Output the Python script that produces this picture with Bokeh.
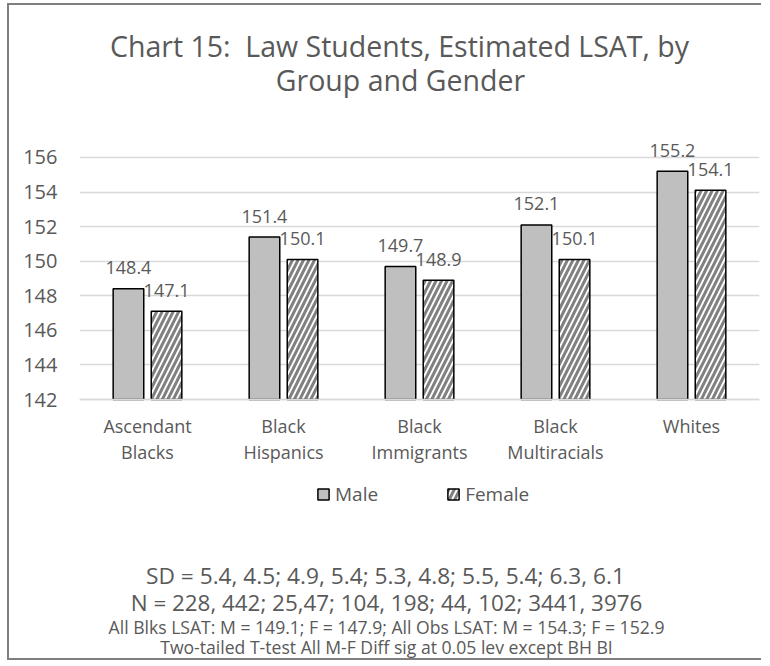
from bokeh.plotting import figure
from bokeh.models import ColumnDataSource, FactorRange, FixedTicker, Label, Legend, LegendItem, Range1d
from bokeh.transform import dodge
from bokeh.core.properties import value
from bokeh.embed import file_html
from bokeh.resources import INLINE

groups = ["Ascendant\nBlacks", "Black\nHispanics", "Black\nImmigrants", "Black\nMultiracials", "Whites"]
male = [148.4, 151.4, 149.7, 152.1, 155.2]
female = [147.1, 150.1, 148.9, 150.1, 154.1]
y_ticks = [142, 144, 146, 148, 150, 152, 154, 156]
title_lines = ["Chart 15:\u00a0 Law Students, Estimated LSAT, by", "Group and Gender"]
notes = [
    "SD = 5.4, 4.5; 4.9, 5.4; 5.3, 4.8; 5.5, 5.4; 6.3, 6.1",
    "N = 228, 442; 25,47; 104, 198; 44, 102; 3441, 3976",
    "All Blks LSAT: M = 149.1; F = 147.9; All Obs LSAT: M = 154.3; F = 152.9",
    "Two-tailed T-test All M-F Diff sig at 0.05 lev except BH BI",
]

FONT = "Open Sans"
TXT = "#595959"

src = ColumnDataSource(dict(
    group=groups, male=male, female=female,
    male_lbl=[f"{v:.1f}" for v in male], female_lbl=[f"{v:.1f}" for v in female],
))

W, H = 760, 657
p = figure(width=W, height=H, x_range=FactorRange(*groups, range_padding=0),
           y_range=Range1d(126.79, 164.79), output_backend="svg", toolbar_location=None,
           min_border_left=70, min_border_right=10, min_border_top=0, min_border_bottom=0)
p.styles = {"margin-left": "7px", "margin-top": "3px",
            "border-left": "2px solid #7f7f7f", "border-top": "2px solid #7f7f7f",
            "border-bottom": "2px solid #7f7f7f", "border-right": "0px none",
            "clip-path": "inset(0px 6px 0px 0px)"}
p.outline_line_color = None
p.background_fill_color = "white"
p.border_fill_color = "white"

rm = p.vbar(x=dodge("group", -0.14, range=p.x_range), top="male", bottom=142, width=0.225,
            source=src, fill_color="#BFBFBF", line_color="black", line_width=1.5)
rf = p.vbar(x=dodge("group", 0.14, range=p.x_range), top="female", bottom=142, width=0.225,
            source=src, fill_color="white", line_color="black", line_width=1.5,
            hatch_pattern="/", hatch_color="#808080", hatch_weight=3, hatch_scale=11)

p.text(x=dodge("group", -0.14, range=p.x_range), y="male", text="male_lbl", source=src,
       text_align="center", text_baseline="alphabetic", y_offset=-21,
       text_font=value(FONT), text_font_size="18px", text_color=TXT)
p.text(x=dodge("group", 0.14, range=p.x_range), y="female", text="female_lbl", source=src,
       text_align="center", text_baseline="alphabetic", y_offset=-21,
       text_font=value(FONT), text_font_size="18px", text_color=TXT)

p.yaxis.ticker = FixedTicker(ticks=y_ticks)
p.ygrid.ticker = FixedTicker(ticks=y_ticks)
p.ygrid.grid_line_color = "#D9D9D9"
p.ygrid.grid_line_width = 1.5
p.xgrid.grid_line_color = None
p.xaxis.fixed_location = 142
for ax in (p.xaxis, p.yaxis):
    ax.major_tick_line_color = None
    ax.minor_tick_line_color = None
    ax.major_label_text_font = FONT
    ax.major_label_text_color = TXT
p.yaxis.axis_line_color = None
p.xaxis.axis_line_color = "#D9D9D9"
p.xaxis.axis_line_width = 1.5
p.yaxis.major_label_text_font_size = "20px"
p.xaxis.major_label_text_font_size = "18px"
p.xaxis.major_label_text_line_height = 1.12
p.yaxis.major_label_standoff = 16
p.xaxis.major_label_standoff = 8

FL, FB = 79, 662  # page coords of frame left / bottom

legend = Legend(items=[LegendItem(label="Male", renderers=[rm]),
                       LegendItem(label="Female", renderers=[rf])],
                orientation="horizontal", location=(316 - FL, FB - 507),
                glyph_width=14, glyph_height=14, label_standoff=5, spacing=68,
                padding=0, margin=0, border_line_color=None, background_fill_alpha=0,
                label_text_font=FONT, label_text_font_size="19px", label_text_color=TXT,
                label_height=20)
p.add_layout(legend, "center")


def add_text(txt, px, py, size):
    p.add_layout(Label(x=px - FL, y=FB - py, x_units="screen", y_units="screen", text=txt,
                       text_align="center", text_baseline="middle", text_font=FONT,
                       text_font_size=size, text_color=TXT))


add_text(title_lines[0], 399, 45, "28.5px")
add_text(title_lines[1], 400, 79, "28.5px")
add_text(notes[0], 385, 575, "22.7px")
add_text(notes[1], 386, 602, "22.4px")
add_text(notes[2], 386, 626, "17.6px")
add_text(notes[3], 386, 646, "17.6px")

open("out.html", "w").write(file_html(p, INLINE))
